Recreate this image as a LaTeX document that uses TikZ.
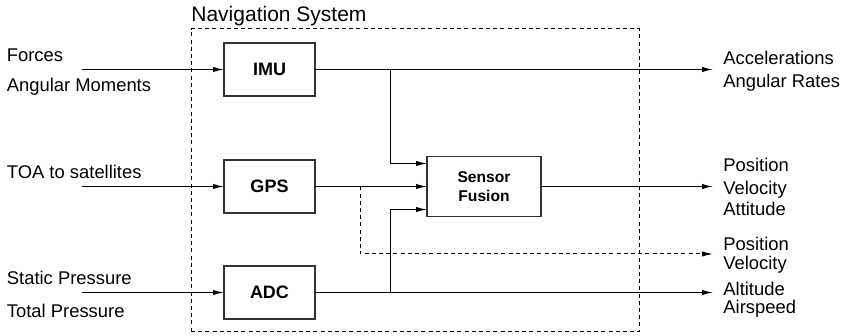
\documentclass[tikz,border=0pt]{standalone}
\usepackage{fontspec}
\setmainfont{Liberation Sans}
\usetikzlibrary{positioning, arrows.meta, calc}

\begin{document}
\begin{tikzpicture}[x=0.5pt, y=-0.5pt,
                block/.style={draw=black!80, line width=0.55pt, rectangle, minimum width=45.5pt, minimum height=26.5pt, inner sep=0pt, outer sep=0pt, font=\fontsize{9}{10}\selectfont\bfseries},
                fusionblock/.style={block, minimum width=57pt, minimum height=30pt, align=center, font=\fontsize{7.8}{9.6}\selectfont\bfseries},
                wire/.style={line width=0.5pt},
                sig/.style={wire, -{Latex[length=5.5pt, width=2.6pt]}},
                sigdash/.style={sig, dash pattern=on 2pt off 1.6pt},
                frame/.style={draw=black, line width=0.5pt, dash pattern=on 2pt off 1.6pt, minimum width=224pt, minimum height=151.5pt, inner sep=0pt},
                varlabel/.style={anchor=base west, inner sep=0pt, font=\fontsize{9.2}{11}\selectfont}
            ]
            \useasboundingbox (0,0) rectangle (841,336);

            % Knoten
            \node[frame] (nav) at (415,180.5) {};
            \node[anchor=base west, inner sep=0pt, font=\fontsize{10.5}{12}\selectfont] (navlabel) at (191,21.7) {Navigation System};
            \node[block] (imu) at (269.5,69.5) {IMU};
            \node[block, below=32pt of imu] (gps) {GPS};
            \node[block, below=26.5pt of gps] (adc) {ADC};
            \node[fusionblock, right=56pt of gps] (fusion) {Sensor\\Fusion};

            % Ein- und Ausgaenge
            \coordinate (inx) at (82,0);
            \coordinate (outx) at (713,0);
            \coordinate (tap) at (390,0);
            \coordinate (gpstap) at (360,0);
            \coordinate (outgps) at (713,254);

            \node[varlabel] (forces) at (6.5,61.7) {Forces};
            \node[varlabel] (moments) at (6.5,91.7) {Angular Moments};
            \node[varlabel] (toa) at (6.5,178.3) {TOA to satellites};
            \node[varlabel] (static) at (6.5,285) {Static Pressure};
            \node[varlabel] (total) at (6.5,318) {Total Pressure};

            \node[varlabel] (acc) at (723,65) {Accelerations};
            \node[varlabel] (rates) at (723,87.5) {Angular Rates};
            \node[varlabel] (pos) at (723,171.7) {Position};
            \node[varlabel] (vel) at (723,195) {Velocity};
            \node[varlabel] (att) at (723,215.7) {Attitude};
            \node[varlabel] (posgps) at (723,251) {Position};
            \node[varlabel] (velgps) at (723,269.3) {Velocity};
            \node[varlabel] (alt) at (723,295.7) {Altitude};
            \node[varlabel] (air) at (723,314) {Airspeed};

            % Kanten zwischen Knoten
            \draw[sig] (imu.west -| inx) -- (imu.west);
            \draw[sig] (gps.west -| inx) -- (gps.west);
            \draw[sig] (adc.west -| inx) -- (adc.west);
            \draw[sig] (imu.east) -- (imu.east -| outx);
            \draw[sig] (gps.east) -- (fusion.west);
            \draw[sig] (adc.east) -- (adc.east -| outx);
            \draw[sig] (fusion.east) -- (fusion.east -| outx);
            \draw[sig] (imu.east -| tap) |- ([yshift=11.5pt]fusion.west);
            \draw[sig] (adc.east -| tap) |- ([yshift=-11.5pt]fusion.west);
            \draw[sigdash] (gps.east -| gpstap) |- (outgps);

        \end{tikzpicture}
\end{document}
